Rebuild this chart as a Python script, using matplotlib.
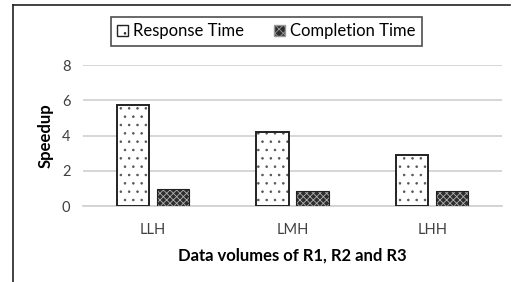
import matplotlib
matplotlib.use("Agg")
import matplotlib.pyplot as plt
import numpy as np
from matplotlib.patches import Patch
from matplotlib.lines import Line2D

categories = ["LLH", "LMH", "LHH"]
response_time = [5.74, 4.18, 2.87]
completion_time = [0.94, 0.85, 0.85]
yticks = [0, 2, 4, 6, 8]

plt.rcParams['font.family'] = ['Lato', 'DejaVu Sans']
plt.rcParams['hatch.linewidth'] = 0.6

fig = plt.figure(figsize=(5.15, 2.82), dpi=100)
ax = fig.add_axes([0.161, 0.2695, 0.814, 0.5])

x = np.arange(len(categories))
w = 0.23
off = 0.143

# response: white with sparse dots
ax.bar(x - off, response_time, w, color='white', edgecolor='#555555', hatch='..', linewidth=0, zorder=3)
ax.bar(x - off, response_time, w, fill=False, edgecolor='#222222', linewidth=1.4, zorder=4)
# completion: dark dense pattern
ax.bar(x + off, completion_time, w, color='#2e2e2e', edgecolor='#b0b0b0', hatch='xxxxx', linewidth=0, zorder=3)
ax.bar(x + off, completion_time, w, fill=False, edgecolor='#222222', linewidth=0.8, zorder=4)

ax.set_xlim(-0.5, 2.5)
ax.set_ylim(0, 8)
ax.set_yticks(yticks)
ax.set_xticks(x)
ax.set_xticklabels(categories)
ax.grid(axis='y', color='#d0d0d0', linewidth=1.2, zorder=0)
for s in ['top', 'right', 'left']:
    ax.spines[s].set_visible(False)
ax.spines['bottom'].set_color('#d0d0d0')
ax.spines['bottom'].set_linewidth(1.2)
ax.tick_params(length=0, labelsize=10.5, colors='#404040', pad=9)
ax.tick_params(axis='x', pad=12)
ax.set_ylabel("Speedup", fontsize=12, fontweight='bold', labelpad=6)
ax.set_xlabel("Data volumes of R1, R2 and R3", fontsize=12, fontweight='bold', labelpad=8)

handles = [Patch(facecolor='white', edgecolor='#222222', hatch='..', linewidth=1.0, label='Response Time'),
           Patch(facecolor='#2e2e2e', edgecolor='#9a9a9a', hatch='xxxx', linewidth=1.0, label='Completion Time')]
leg = fig.legend(handles=handles, loc='center', bbox_to_anchor=(0.517, 0.889), ncol=2,
                 fontsize=12, frameon=True, fancybox=False, edgecolor='#222222',
                 handlelength=0.65, handleheight=0.65, handletextpad=0.3, columnspacing=1.8,
                 borderpad=0.4, borderaxespad=0)
leg.get_frame().set_linewidth(1.2)

# outer frame (left and top border)
fig.add_artist(Line2D([12.5/515, 12.5/515], [0, 1 - 5/282], color='#222222', linewidth=1.2))
fig.add_artist(Line2D([12.5/515, 510/515], [1 - 5/282, 1 - 5/282], color='#222222', linewidth=1.2))

fig.savefig("out.png", dpi=100)
